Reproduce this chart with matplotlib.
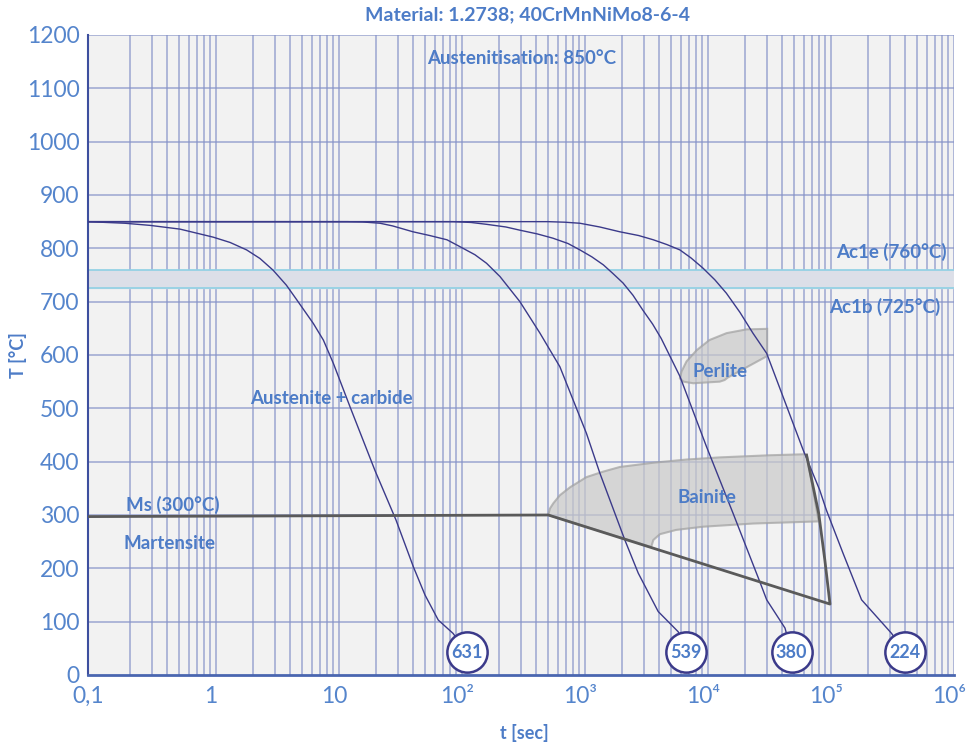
import matplotlib
matplotlib.use('Agg')
import matplotlib.pyplot as plt
import numpy as np

plt.rcParams['font.family'] = ['Lato', 'DejaVu Sans']

# cooling curves (t in sec, T in degC)
c631_t = [0.1, 0.2, 0.32, 0.56, 1.04, 1.43, 1.95, 2.5, 3.2, 4.1, 5.0, 6.8, 8.2, 9.9, 13.5, 21.5, 31.9, 44.2, 55, 70.5, 93, 120]
c631_T = [850, 847, 843, 836, 821, 811, 797, 781, 759, 731, 703, 659, 628, 584, 503, 384, 291, 203, 150, 103, 78, 43]

c539_t = [0.1, 12.8, 17, 23.7, 30, 43.9, 60, 83, 106, 140, 174, 224, 325, 473, 687, 1130, 1455, 2320, 2980, 4330, 6300, 7230]
c539_T = [850, 850, 849.5, 847, 842, 831, 824, 816, 803, 788, 772, 747, 700, 641, 578, 453, 378, 253, 191, 119, 81, 43]

c380_t = [0.1, 93, 130, 174, 250, 325, 450, 603, 800, 1000, 1250, 1550, 1850, 2240, 2700, 3250, 3900, 4580, 6500, 10700, 17600, 29000, 33000, 46500, 52600]
c380_T = [850, 850, 848.5, 845, 840, 834, 827, 819, 809, 797, 784, 769, 753, 735, 712, 684, 658, 631, 560, 428, 303, 175, 141, 88, 43]

c224_t = [0.1, 550, 750, 1000, 1450, 2110, 3000, 3950, 5100, 6500, 8000, 10000, 12500, 15500, 20000, 25500, 33000, 65300, 89000, 101000, 138000, 195000, 342000, 438000]
c224_T = [850, 850, 849, 847, 840, 831, 824, 816, 807, 797, 782, 763, 741, 716, 680, 641, 603, 422, 347, 309, 228, 141, 78, 43]

# Ms line and bainite end line
ms_t = [0.1, 553, 108000, 98000, 87400, 69700]
ms_T = [297, 300, 133, 216, 303, 412]

# phase regions
bain_t = [553, 570, 608, 687, 832, 1130, 1530, 2110, 3950, 7360, 13700, 35000, 69700,
          87400, 25700, 10000, 6050, 4470, 3950, 3800]
bain_T = [300, 312, 322, 337, 352, 371, 381, 390, 398, 404, 408, 412, 414,
          288, 284, 278, 272, 264, 253, 240]

perl_t = [6500, 6950, 8340, 13700, 15000, 16000, 33300, 33300, 22600, 15600, 11300, 8900, 7360, 6700]
perl_T = [556, 550, 547, 550, 553, 558, 598, 649, 648, 641, 628, 609, 588, 569]

# hardness circles
circ_t = [120, 7230, 52600, 438000]
circ_T = [43, 43, 43, 43]
circ_lab = ['631', '539', '380', '224']

ac1e = 760
ac1b = 725

xticks = [0.1, 1, 10, 1e2, 1e3, 1e4, 1e5, 1e6]
xticklabels = ['0,1', '1', '10', '10²', '10³', '10⁴', '10⁵', '10⁶']
yticks = list(range(0, 1300, 100))

txt = '#4d7cc7'
gridc = '#8593c8'
curvec = '#3b3a8a'

fig = plt.figure(figsize=(9.68, 7.49), dpi=100)
ax = fig.add_axes([0.0909, 0.0988, 0.8946, 0.8545])
ax.set_facecolor('#f2f2f2')
ax.set_xscale('log')
ax.set_xlim(0.1, 1.1e6)
ax.set_ylim(0, 1200)

# grid (vertical lines are slightly shifted in the original)
for d in range(-1, 6):
    for m in range(2, 11):
        ax.axvline(m * 10.0**d * 1.1, color=gridc, lw=1.1, alpha=0.8, zorder=1)
for y in yticks[1:]:
    ax.axhline(y, color=gridc, lw=1.1, alpha=0.8, zorder=1)

ax.axhspan(ac1b, ac1e, color='#dcdfe8', zorder=1.5)
ax.axhline(ac1e, color='#8fd0e4', lw=1.2, zorder=1.6)
ax.axhline(ac1b, color='#8fd0e4', lw=1.2, zorder=1.6)

ax.fill(bain_t, bain_T, facecolor='#c9c9c9', alpha=0.7, edgecolor='#a0a0a0', lw=1.5, zorder=2)
ax.fill(perl_t, perl_T, facecolor='#c9c9c9', alpha=0.7, edgecolor='#a0a0a0', lw=1.5, zorder=2)

for t, T in [(c631_t, c631_T), (c539_t, c539_T), (c380_t, c380_T), (c224_t, c224_T)]:
    ax.plot(t, T, color=curvec, lw=1, zorder=3)

ax.plot(ms_t, ms_T, color='#5a5a5a', lw=2, zorder=3.5)

ax.plot(circ_t, circ_T, 'o', ms=29, mfc='white', mec=curvec, mew=1.8, zorder=4, clip_on=False)
for t, T, s in zip(circ_t, circ_T, circ_lab):
    ax.text(t, T, s, ha='center', va='center', color=txt, fontsize=13, fontweight='bold', zorder=5)

kw = dict(color=txt, fontsize=13.5, fontweight='bold', zorder=5)
ax.text(336, 1156, 'Austenitisation: 850°C', ha='center', va='center', **kw)
ax.text(955000, 794, 'Ac1e (760°C)', ha='right', va='center', **kw)
ax.text(855000, 690, 'Ac1b (725°C)', ha='right', va='center', **kw)
ax.text(13700, 569, 'Perlite', ha='center', va='center', **kw)
ax.text(10700, 332, 'Bainite', ha='center', va='center', **kw)
ax.text(9.6, 519, 'Austenite + carbide', ha='center', va='center', **kw)
ax.text(0.486, 319, 'Ms (300°C)', ha='center', va='center', **kw)
ax.text(0.456, 247, 'Martensite', ha='center', va='center', **kw)

ax.set_xticks(xticks)
ax.set_xticklabels(xticklabels)
ax.set_yticks(yticks)
ax.minorticks_off()
ax.tick_params(length=0, labelsize=16.5, labelcolor='#5585cc')
ax.tick_params(axis='y', pad=6)
ax.tick_params(axis='x', pad=8)

for s in ['top', 'right']:
    ax.spines[s].set_visible(False)
ax.spines['left'].set_color('#3d4f9e')
ax.spines['left'].set_linewidth(1.5)
ax.spines['bottom'].set_color('#4a66b0')
ax.spines['bottom'].set_linewidth(2)

fig.text(0.545, 0.98, 'Material: 1.2738; 40CrMnNiMo8-6-4', ha='center', va='center',
         color=txt, fontsize=14, fontweight='bold')
fig.text(0.019, 0.526, 'T [°C]', rotation=90, ha='center', va='center',
         color=txt, fontsize=13, fontweight='bold')
fig.text(0.542, 0.021, 't [sec]', ha='center', va='center',
         color=txt, fontsize=13, fontweight='bold')

fig.savefig('out.png', dpi=100)
